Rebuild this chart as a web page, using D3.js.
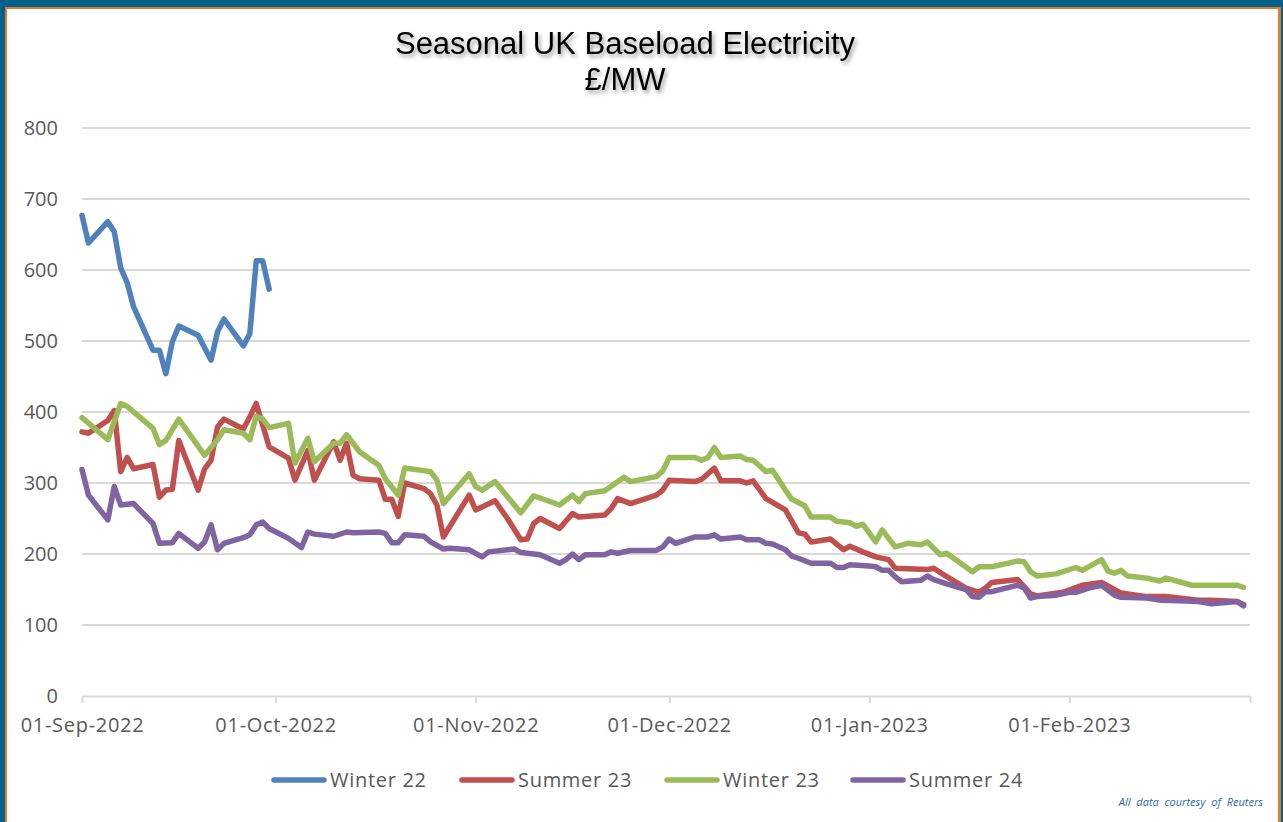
<!DOCTYPE html>
<html>
<head>
<meta charset="utf-8">
<script src="https://cdn.jsdelivr.net/npm/d3@7"></script>
<style>
  html, body { margin: 0; padding: 0; background: #00628b; }
  svg { display: block; }
</style>
</head>
<body>
<svg id="chart" width="1283" height="822"></svg>
<script>
// x tick labels (month starts) and y ticks
const monthTicks = ["2022-09-01", "2022-10-01", "2022-11-01", "2022-12-01", "2023-01-01", "2023-02-01"];
const valueTicks = [0, 100, 200, 300, 400, 500, 600, 700, 800];

// series: [date, £/MW]
const winter22 = [
  ["2022-09-01", 677], ["2022-09-02", 638], ["2022-09-05", 668], ["2022-09-06", 654], ["2022-09-07", 603],
  ["2022-09-08", 582], ["2022-09-09", 548], ["2022-09-12", 487], ["2022-09-13", 487], ["2022-09-14", 454],
  ["2022-09-15", 499], ["2022-09-16", 521], ["2022-09-19", 508], ["2022-09-21", 473], ["2022-09-22", 513],
  ["2022-09-23", 531], ["2022-09-26", 493], ["2022-09-27", 510], ["2022-09-28", 613], ["2022-09-29", 613],
  ["2022-09-30", 573]
];

const summer23 = [
  ["2022-09-01", 372], ["2022-09-02", 370], ["2022-09-05", 388], ["2022-09-06", 402], ["2022-09-07", 316],
  ["2022-09-08", 336], ["2022-09-09", 320], ["2022-09-12", 326], ["2022-09-13", 280], ["2022-09-14", 290],
  ["2022-09-15", 291], ["2022-09-16", 360], ["2022-09-19", 290], ["2022-09-20", 320], ["2022-09-21", 332],
  ["2022-09-22", 379], ["2022-09-23", 390], ["2022-09-26", 376], ["2022-09-27", 393], ["2022-09-28", 412],
  ["2022-09-30", 351], ["2022-10-03", 335], ["2022-10-04", 304], ["2022-10-06", 346], ["2022-10-07", 304],
  ["2022-10-10", 358], ["2022-10-11", 332], ["2022-10-12", 356], ["2022-10-13", 311], ["2022-10-14", 306],
  ["2022-10-17", 304], ["2022-10-18", 277], ["2022-10-19", 277], ["2022-10-20", 253], ["2022-10-21", 300],
  ["2022-10-24", 292], ["2022-10-25", 285], ["2022-10-26", 269], ["2022-10-27", 224], ["2022-10-31", 283],
  ["2022-11-01", 262], ["2022-11-04", 275], ["2022-11-06", 249], ["2022-11-08", 220], ["2022-11-09", 221],
  ["2022-11-10", 243], ["2022-11-11", 250], ["2022-11-14", 236], ["2022-11-16", 257], ["2022-11-17", 252],
  ["2022-11-21", 255], ["2022-11-22", 264], ["2022-11-23", 278], ["2022-11-25", 271], ["2022-11-29", 283],
  ["2022-11-30", 290], ["2022-12-01", 304], ["2022-12-05", 302], ["2022-12-06", 305], ["2022-12-08", 321],
  ["2022-12-09", 303], ["2022-12-12", 303], ["2022-12-13", 300], ["2022-12-14", 303], ["2022-12-16", 278],
  ["2022-12-19", 262], ["2022-12-21", 230], ["2022-12-22", 228], ["2022-12-23", 217], ["2022-12-26", 221],
  ["2022-12-28", 206], ["2022-12-29", 211], ["2022-12-31", 203], ["2023-01-02", 196], ["2023-01-04", 192],
  ["2023-01-05", 180], ["2023-01-10", 178], ["2023-01-11", 180], ["2023-01-13", 168], ["2023-01-16", 152],
  ["2023-01-18", 146], ["2023-01-19", 152], ["2023-01-20", 160], ["2023-01-24", 164], ["2023-01-26", 144],
  ["2023-01-27", 141], ["2023-01-31", 146], ["2023-02-03", 156], ["2023-02-06", 160], ["2023-02-09", 145],
  ["2023-02-13", 140], ["2023-02-16", 140], ["2023-02-18", 138], ["2023-02-21", 135], ["2023-02-23", 135],
  ["2023-02-27", 133], ["2023-02-28", 129]
];

const winter23 = [
  ["2022-09-01", 392], ["2022-09-05", 361], ["2022-09-07", 412], ["2022-09-08", 408], ["2022-09-12", 377],
  ["2022-09-13", 354], ["2022-09-14", 360], ["2022-09-16", 390], ["2022-09-20", 339], ["2022-09-22", 361],
  ["2022-09-23", 375], ["2022-09-26", 370], ["2022-09-27", 361], ["2022-09-28", 394], ["2022-09-29", 390],
  ["2022-09-30", 378], ["2022-10-03", 384], ["2022-10-04", 328], ["2022-10-06", 363], ["2022-10-07", 330],
  ["2022-10-10", 356], ["2022-10-11", 356], ["2022-10-12", 368], ["2022-10-14", 344], ["2022-10-17", 325],
  ["2022-10-18", 306], ["2022-10-20", 283], ["2022-10-21", 321], ["2022-10-25", 316], ["2022-10-26", 304],
  ["2022-10-27", 271], ["2022-10-31", 313], ["2022-11-01", 295], ["2022-11-02", 290], ["2022-11-04", 302],
  ["2022-11-08", 258], ["2022-11-10", 282], ["2022-11-14", 269], ["2022-11-16", 283], ["2022-11-17", 274],
  ["2022-11-18", 285], ["2022-11-21", 289], ["2022-11-24", 308], ["2022-11-25", 302], ["2022-11-29", 309],
  ["2022-11-30", 317], ["2022-12-01", 336], ["2022-12-05", 336], ["2022-12-06", 332], ["2022-12-07", 336],
  ["2022-12-08", 350], ["2022-12-09", 336], ["2022-12-12", 338], ["2022-12-13", 333], ["2022-12-14", 332],
  ["2022-12-16", 316], ["2022-12-17", 318], ["2022-12-19", 290], ["2022-12-20", 277], ["2022-12-22", 268],
  ["2022-12-23", 252], ["2022-12-26", 252], ["2022-12-27", 246], ["2022-12-29", 244], ["2022-12-30", 239],
  ["2022-12-31", 242], ["2023-01-02", 217], ["2023-01-03", 234], ["2023-01-05", 210], ["2023-01-07", 215],
  ["2023-01-09", 213], ["2023-01-10", 217], ["2023-01-12", 199], ["2023-01-13", 201], ["2023-01-17", 175],
  ["2023-01-18", 182], ["2023-01-20", 182], ["2023-01-24", 190], ["2023-01-25", 189], ["2023-01-26", 175],
  ["2023-01-27", 169], ["2023-01-30", 172], ["2023-02-02", 181], ["2023-02-03", 177], ["2023-02-06", 192],
  ["2023-02-07", 176], ["2023-02-08", 173], ["2023-02-09", 177], ["2023-02-10", 169], ["2023-02-13", 166],
  ["2023-02-15", 162], ["2023-02-16", 166], ["2023-02-20", 156], ["2023-02-27", 156], ["2023-02-28", 153]
];

const summer24 = [
  ["2022-09-01", 319], ["2022-09-02", 283], ["2022-09-05", 248], ["2022-09-06", 295], ["2022-09-07", 269],
  ["2022-09-09", 271], ["2022-09-12", 243], ["2022-09-13", 215], ["2022-09-15", 216], ["2022-09-16", 229],
  ["2022-09-19", 208], ["2022-09-20", 217], ["2022-09-21", 241], ["2022-09-22", 206], ["2022-09-23", 215],
  ["2022-09-26", 223], ["2022-09-27", 227], ["2022-09-28", 241], ["2022-09-29", 245], ["2022-09-30", 236],
  ["2022-10-03", 222], ["2022-10-05", 209], ["2022-10-06", 231], ["2022-10-07", 228], ["2022-10-10", 225],
  ["2022-10-12", 231], ["2022-10-13", 230], ["2022-10-17", 231], ["2022-10-18", 229], ["2022-10-19", 216],
  ["2022-10-20", 216], ["2022-10-21", 227], ["2022-10-24", 225], ["2022-10-25", 217], ["2022-10-27", 207],
  ["2022-10-28", 208], ["2022-10-31", 206], ["2022-11-01", 201], ["2022-11-02", 196], ["2022-11-03", 203],
  ["2022-11-07", 207], ["2022-11-08", 202], ["2022-11-11", 199], ["2022-11-14", 187], ["2022-11-15", 192],
  ["2022-11-16", 200], ["2022-11-17", 192], ["2022-11-18", 199], ["2022-11-21", 199], ["2022-11-22", 203],
  ["2022-11-23", 201], ["2022-11-25", 205], ["2022-11-29", 205], ["2022-11-30", 210], ["2022-12-01", 221],
  ["2022-12-02", 215], ["2022-12-05", 224], ["2022-12-07", 224], ["2022-12-08", 227], ["2022-12-09", 221],
  ["2022-12-12", 224], ["2022-12-13", 220], ["2022-12-15", 220], ["2022-12-16", 215], ["2022-12-17", 214],
  ["2022-12-19", 206], ["2022-12-20", 197], ["2022-12-21", 194], ["2022-12-23", 187], ["2022-12-26", 187],
  ["2022-12-27", 181], ["2022-12-28", 181], ["2022-12-29", 185], ["2023-01-01", 183], ["2023-01-02", 182],
  ["2023-01-03", 177], ["2023-01-04", 177], ["2023-01-05", 168], ["2023-01-06", 161], ["2023-01-09", 163],
  ["2023-01-10", 169], ["2023-01-11", 164], ["2023-01-13", 158], ["2023-01-16", 150], ["2023-01-17", 140],
  ["2023-01-18", 139], ["2023-01-19", 147], ["2023-01-20", 147], ["2023-01-24", 156], ["2023-01-25", 152],
  ["2023-01-26", 138], ["2023-01-27", 140], ["2023-01-30", 142], ["2023-02-01", 146], ["2023-02-02", 146],
  ["2023-02-04", 152], ["2023-02-06", 156], ["2023-02-08", 142], ["2023-02-09", 139], ["2023-02-13", 138],
  ["2023-02-15", 135], ["2023-02-18", 134], ["2023-02-21", 133], ["2023-02-23", 130], ["2023-02-27", 133],
  ["2023-02-28", 127]
];

const seriesNames = ["Winter 22", "Summer 23", "Winter 23", "Summer 24"];
const seriesColors = ["#4f81bd", "#c0504d", "#9bbb59", "#8064a2"];

const parse = d3.timeParse("%Y-%m-%d");
const fmt = d3.timeFormat("%d-%b-%Y");
const labelFont = "'Open Sans', Lato, sans-serif";

const svg = d3.select("#chart");

// frame: blue page, orange rule, white card
svg.append("rect").attr("x", 5).attr("y", 7).attr("width", 1276).attr("height", 830)
  .attr("fill", "#e8792b");
svg.append("rect").attr("x", 7).attr("y", 9).attr("width", 1271).attr("height", 830)
  .attr("fill", "#ffffff");

const margin = {top: 128, left: 82, right: 33, bottom: 126};
const width = 1283 - margin.left - margin.right;
const height = 822 - margin.top - margin.bottom;

const g = svg.append("g").attr("transform", "translate(" + margin.left + "," + margin.top + ")");

const x = d3.scaleTime()
  .domain([parse("2022-09-01"), parse("2023-03-01")])
  .range([0, width]);

const y = d3.scaleLinear()
  .domain([0, 800])
  .range([height, 0]);

// gridlines
g.append("g")
  .selectAll("line")
  .data(valueTicks.filter(v => v > 0))
  .join("line")
  .attr("x1", 0).attr("x2", width)
  .attr("y1", d => y(d)).attr("y2", d => y(d))
  .attr("stroke", "#d9d9d9")
  .attr("stroke-width", 2);

// y axis labels
const yAxis = g.append("g")
  .call(d3.axisLeft(y).tickValues(valueTicks).tickSize(0).tickPadding(24));
yAxis.select(".domain").remove();
yAxis.selectAll("text")
  .attr("fill", "#595959")
  .style("font-family", labelFont)
  .style("font-size", "20px");

// x axis
const xAxis = g.append("g")
  .attr("transform", "translate(0," + height + ")")
  .call(d3.axisBottom(x).tickValues(monthTicks.map(parse).concat([parse("2023-03-01")]))
    .tickFormat((d, i) => i < monthTicks.length ? fmt(d) : "")
    .tickSize(7).tickSizeOuter(0).tickPadding(15));
xAxis.select(".domain").attr("stroke", "#d9d9d9").attr("stroke-width", 2);
xAxis.selectAll(".tick line").attr("stroke", "#d9d9d9").attr("stroke-width", 2);
xAxis.selectAll("text")
  .attr("fill", "#595959")
  .style("font-family", labelFont)
  .style("font-size", "20px")
  .style("letter-spacing", "0.7px");

// lines
const line = d3.line()
  .x(d => x(parse(d[0])))
  .y(d => y(d[1]));

[winter22, summer23, winter23, summer24].forEach((s, i) => {
  g.append("path")
    .datum(s)
    .attr("fill", "none")
    .attr("stroke", seriesColors[i])
    .attr("stroke-width", 5.5)
    .attr("stroke-linejoin", "round")
    .attr("stroke-linecap", "round")
    .attr("d", line);
});

// title with soft shadow
const defs = svg.append("defs");
const f = defs.append("filter").attr("id", "shadow").attr("x", "-5%").attr("y", "-20%")
  .attr("width", "110%").attr("height", "150%");
f.append("feDropShadow").attr("dx", 2).attr("dy", 3).attr("stdDeviation", 2)
  .attr("flood-color", "#000").attr("flood-opacity", 0.4);

const title = svg.append("g").attr("filter", "url(#shadow)")
  .style("font-family", "'Liberation Sans', Arial, sans-serif")
  .attr("text-anchor", "middle").attr("fill", "#000");
title.append("text").attr("x", 625).attr("y", 54).style("font-size", "31px")
  .text("Seasonal UK Baseload Electricity");
title.append("text").attr("x", 625).attr("y", 90).style("font-size", "31px")
  .text("£/MW");

// legend
const legendX = [272, 460, 665, 851];
const legend = svg.append("g").attr("transform", "translate(0,780)");
seriesNames.forEach((name, i) => {
  legend.append("line")
    .attr("x1", legendX[i] + 2).attr("x2", legendX[i] + 52)
    .attr("stroke", seriesColors[i]).attr("stroke-width", 5.5).attr("stroke-linecap", "round");
  legend.append("text")
    .attr("x", legendX[i] + 58).attr("y", 7)
    .attr("fill", "#595959")
    .style("font-family", labelFont)
    .style("font-size", "20px")
    .style("letter-spacing", "0.7px")
    .text(name);
});

// source note
svg.append("text")
  .attr("x", 1263).attr("y", 806)
  .attr("text-anchor", "end")
  .attr("fill", "#1f6e9e")
  .style("font-family", labelFont)
  .style("font-size", "11px")
  .style("font-style", "italic")
  .style("word-spacing", "3px")
  .text("All data courtesy of Reuters");
</script>
</body>
</html>
